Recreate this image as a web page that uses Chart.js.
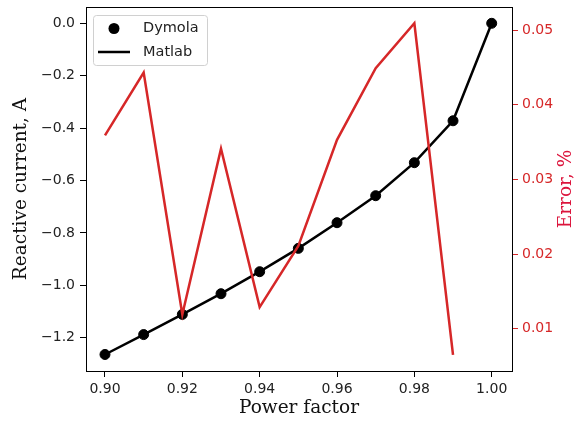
<!DOCTYPE html>
<html>
<head>
<meta charset="utf-8">
<script src="https://cdn.jsdelivr.net/npm/chart.js@4.4.1/dist/chart.umd.min.js"></script>
<style>
  html, body { margin: 0; padding: 0; background: #fff; }
  #wrap { width: 580px; height: 422px; }
</style>
</head>
<body>
<div id="wrap"><canvas id="myChart" width="580" height="422"></canvas></div>
<script>
const powerFactor = [0.90, 0.91, 0.92, 0.93, 0.94, 0.95, 0.96, 0.97, 0.98, 0.99, 1.00];
const dymola = [-1.264, -1.188, -1.111, -1.032, -0.948, -0.859, -0.761, -0.658, -0.532, -0.372, 0.0];
const matlab = [-1.264, -1.188, -1.111, -1.032, -0.948, -0.859, -0.761, -0.658, -0.532, -0.372, 0.0];
const errorPf = [0.90, 0.91, 0.92, 0.93, 0.94, 0.95, 0.96, 0.97, 0.98, 0.99];
const errorPct = [0.0359, 0.0443, 0.0119, 0.0341, 0.0129, 0.0211, 0.0353, 0.0449, 0.0509, 0.0065];
const xTicks = [0.90, 0.92, 0.94, 0.96, 0.98, 1.00];
const leftTicks = [0.0, -0.2, -0.4, -0.6, -0.8, -1.0, -1.2];
const rightTicks = [0.01, 0.02, 0.03, 0.04, 0.05];

const RED = '#d62728';
const toPoints = (xs, ys) => xs.map((x, i) => ({x: x, y: ys[i]}));
const setTicks = list => scale => { scale.ticks = list.map(v => ({value: v})); };
const minus = (v, d) => (v < 0 ? '\u2212' : '') + Math.abs(v).toFixed(d);
// fixed axis size, no extra padding for overflowing labels
const fitTo = (prop, size) => scale => {
  scale[prop] = size;
  scale.paddingTop = scale.paddingBottom = scale.paddingLeft = scale.paddingRight = 0;
};

Chart.defaults.font.family = 'DejaVu Sans';
Chart.defaults.font.size = 14;
Chart.defaults.color = '#222';

// box around the plot + legend + right axis title (matplotlib style)
const extras = {
  id: 'extras',
  afterDatasetsDraw(chart) {
    const {ctx, chartArea: a} = chart;
    ctx.save();
    ctx.strokeStyle = '#000';
    ctx.lineWidth = 1;
    ctx.beginPath();
    ctx.moveTo(a.left, a.top + 0.5);
    ctx.lineTo(a.right, a.top + 0.5);
    ctx.stroke();

    // legend
    const bx = a.left + 7, by = a.top + 8, bw = 114, bh = 50;
    ctx.fillStyle = 'rgba(255,255,255,0.8)';
    ctx.strokeStyle = '#d0d0d0';
    ctx.beginPath();
    ctx.roundRect(bx + 0.5, by + 0.5, bw, bh, 3);
    ctx.fill();
    ctx.stroke();
    ctx.fillStyle = '#000';
    ctx.beginPath();
    ctx.arc(bx + 21, by + 13.5, 5.5, 0, Math.PI * 2);
    ctx.fill();
    ctx.strokeStyle = '#000';
    ctx.lineWidth = 2.5;
    ctx.beginPath();
    ctx.moveTo(bx + 5, by + 37);
    ctx.lineTo(bx + 37, by + 37);
    ctx.stroke();
    ctx.font = '14.5px "DejaVu Sans"';
    ctx.textBaseline = 'middle';
    ctx.textAlign = 'left';
    ctx.fillStyle = '#222';
    ctx.fillText('Dymola', bx + 50, by + 13.5);
    ctx.fillText('Matlab', bx + 50, by + 37);

    // right axis title, reading bottom to top
    ctx.translate(566, (a.top + a.bottom) / 2);
    ctx.rotate(-Math.PI / 2);
    ctx.font = '18.5px "DejaVu Serif"';
    ctx.fillStyle = '#dc143c';
    ctx.textAlign = 'center';
    ctx.fillText('Error, %', 0, 0);
    ctx.restore();
  }
};

const ctx = document.getElementById('myChart').getContext('2d');
const myChart = new Chart(ctx, {
  type: 'line',
  data: {
    datasets: [{
      label: 'Error',
      data: toPoints(errorPf, errorPct),
      yAxisID: 'y1',
      borderColor: RED,
      borderWidth: 2.5,
      pointRadius: 0,
      order: 0
    }, {
      label: 'Dymola',
      data: toPoints(powerFactor, dymola),
      yAxisID: 'y',
      showLine: false,
      pointRadius: 5,
      pointBackgroundColor: '#000',
      pointBorderColor: '#000',
      pointBorderWidth: 1,
      order: 1
    }, {
      label: 'Matlab',
      data: toPoints(powerFactor, matlab),
      yAxisID: 'y',
      borderColor: '#000',
      borderWidth: 2.5,
      pointRadius: 0,
      order: 2
    }]
  },
  options: {
    responsive: false,
    animation: false,
    devicePixelRatio: 1,
    layout: { padding: { top: 7, left: 0, right: 0, bottom: 0 } },
    plugins: {
      legend: { display: false },
      tooltip: { enabled: false }
    },
    scales: {
      x: {
        type: 'linear',
        min: 0.89509,
        max: 1.00525,
        afterBuildTicks: setTicks(xTicks),
        afterFit: fitTo('height', 51),
        border: { color: '#000', width: 1 },
        grid: { drawOnChartArea: false, tickLength: 6, tickColor: '#000' },
        ticks: { padding: 4, color: '#222', maxRotation: 0, callback: v => v.toFixed(2) },
        title: {
          display: true,
          text: 'Power factor',
          color: '#111',
          font: { family: 'DejaVu Serif', size: 18.5 },
          padding: { top: 0, bottom: 3 }
        }
      },
      y: {
        position: 'left',
        min: -1.327,
        max: 0.0622,
        afterBuildTicks: setTicks(leftTicks),
        afterFit: fitTo('width', 86),
        border: { color: '#000', width: 1 },
        grid: { drawOnChartArea: false, tickLength: 6, tickColor: '#000' },
        ticks: { padding: 5, color: '#222', callback: v => minus(v, 1) },
        title: {
          display: true,
          text: 'Reactive current, A',
          color: '#111',
          font: { family: 'DejaVu Serif', size: 18.5 },
          padding: { top: 10, bottom: 0 }
        }
      },
      y1: {
        position: 'right',
        min: 0.00434,
        max: 0.05308,
        afterBuildTicks: setTicks(rightTicks),
        afterFit: fitTo('width', 68),
        border: { color: '#000', width: 1 },
        grid: { drawOnChartArea: false, tickLength: 6, tickColor: RED },
        ticks: { padding: 4, color: RED, callback: v => v.toFixed(2) }
      }
    }
  },
  plugins: [extras]
});
</script>
</body>
</html>
